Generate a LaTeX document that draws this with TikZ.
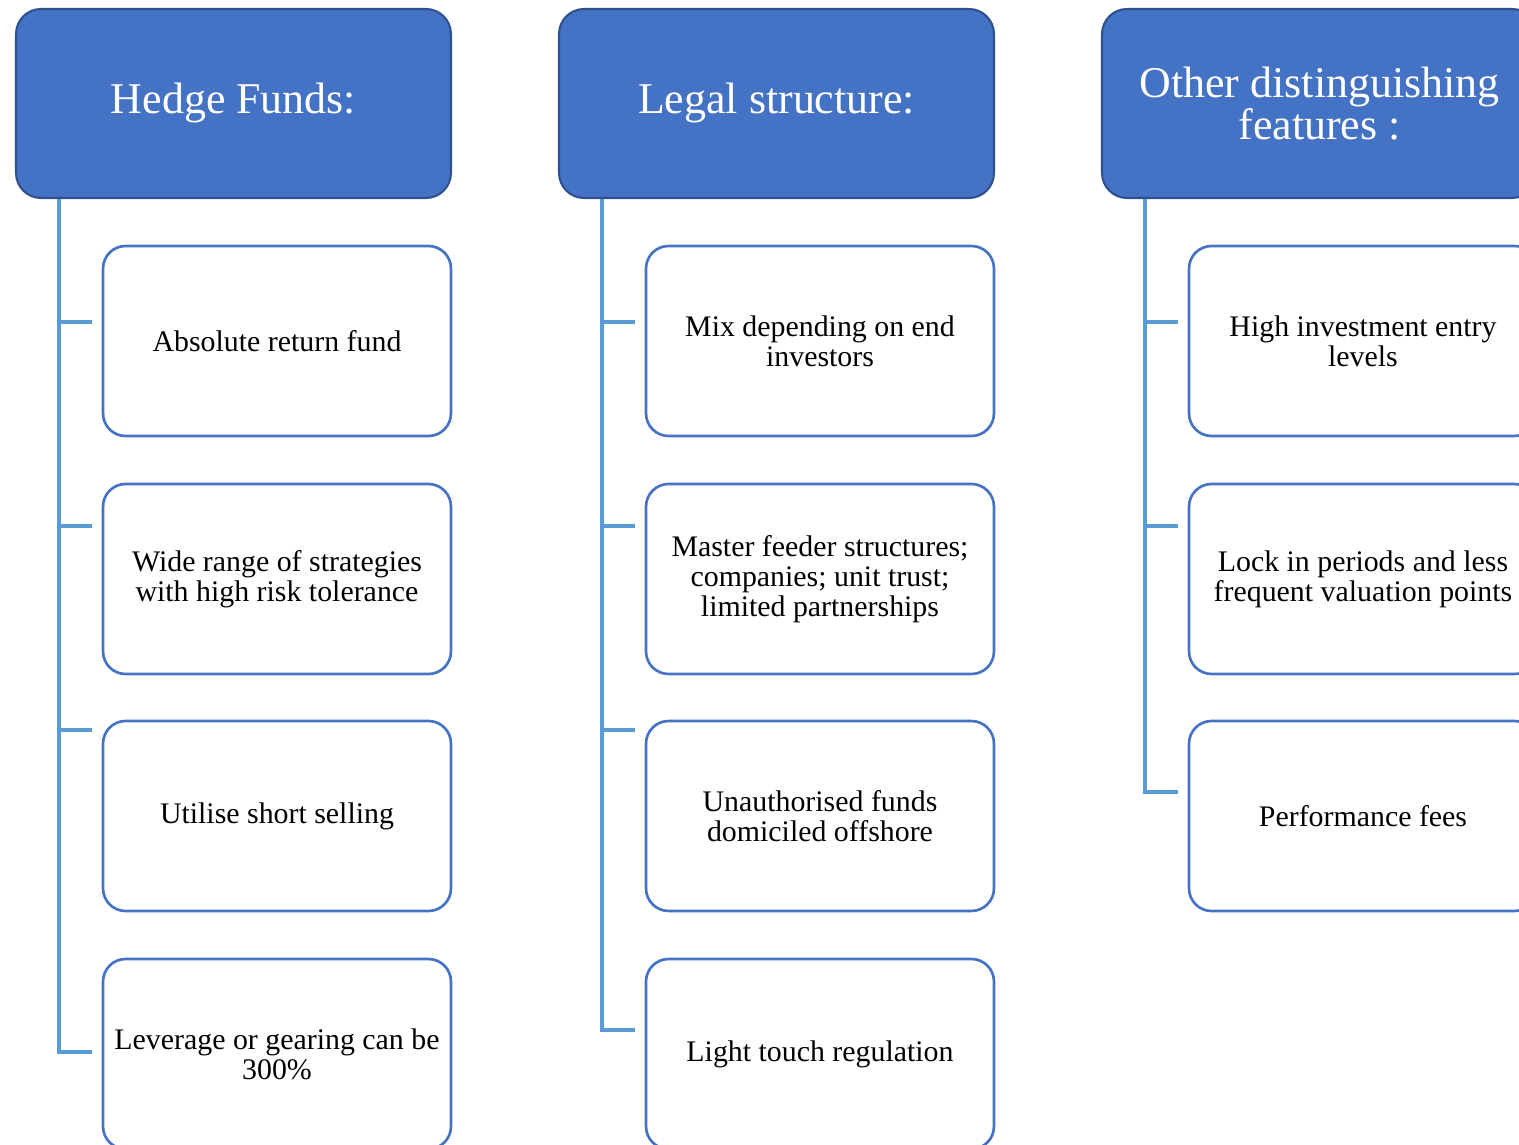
\documentclass[tikz,border=0pt]{standalone}
\usepackage{fontspec}
\setmainfont{Liberation Serif}
\usetikzlibrary{calc}
\definecolor{headblue}{HTML}{4472C4}
\definecolor{headline}{HTML}{2F528F}
\definecolor{linkblue}{HTML}{5B9BD5}
\tikzset{
  head/.style={draw=headline, fill=headblue, line width=1.2pt, rounded corners=0.5cm,
    minimum width=8.7cm, minimum height=3.78cm, inner sep=0pt, align=center,
    text=white, font=\fontsize{25}{24}\selectfont},
  item/.style={draw=headblue, fill=white, line width=1.5pt, rounded corners=0.45cm,
    minimum width=6.96cm, minimum height=3.8cm, inner sep=0pt, align=center,
    font=\fontsize{17}{17}\selectfont},
  conn/.style={draw=linkblue, line width=2pt}
}
\begin{document}
\begin{tikzpicture}[x=0.02cm, y=-0.02cm]
  \useasboundingbox (0,0) rectangle (1519,1145);
  \clip (0,0) rectangle (1519,1145);

  % headers
  \node[head] (ha) at (233.5,103.5) {Hedge Funds:};
  \node[head] (hb) at (776.5,103.5) {Legal structure:};
  \node[head] (hc) at (1319.5,103.5) {Other distinguishing\\ features :};

  % first column
  \node[item] (a1) at (277,341) {Absolute return fund};
  \node[item] (a2) at (277,579) {Wide range of strategies\\ with high risk tolerance};
  \node[item] (a3) at (277,816) {Utilise short selling};
  \node[item] (a4) at (277,1054) {Leverage or gearing can be\\ 300\%};

  % second column
  \node[item] (b1) at (820,341) {Mix depending on end\\ investors};
  \node[item] (b2) at (820,579) {Master feeder structures;\\ companies; unit trust;\\ limited partnerships};
  \node[item] (b3) at (820,816) {Unauthorised funds\\ domiciled offshore};
  \node[item] (b4) at (820,1054) {Light touch regulation};

  % third column
  \node[item] (c1) at (1363,341) {High investment entry\\ levels};
  \node[item] (c2) at (1363,579) {Lock in periods and less\\ frequent valuation points};
  \node[item] (c3) at (1363,816) {Performance fees};

  % trunks
  \draw[conn] ($(ha.south west)+(44,0)$) |- ($(a4.west)+(-10,-2)$);
  \draw[conn] ($(hb.south west)+(44,0)$) |- ($(b4.west)+(-10,-24)$);
  \draw[conn] ($(hc.south west)+(44,0)$) |- ($(c3.west)+(-10,-24)$);

  % ticks
  \foreach \n/\d in {1/-19, 2/-53, 3/-86}
  {
    \draw[conn] ($(a\n.west)+(-10,\d)$) -- ++(-33,0);
    \draw[conn] ($(b\n.west)+(-10,\d)$) -- ++(-33,0);
  }
  \foreach \n/\d in {1/-19, 2/-53}
    \draw[conn] ($(c\n.west)+(-10,\d)$) -- ++(-33,0);
\end{tikzpicture}
\end{document}
